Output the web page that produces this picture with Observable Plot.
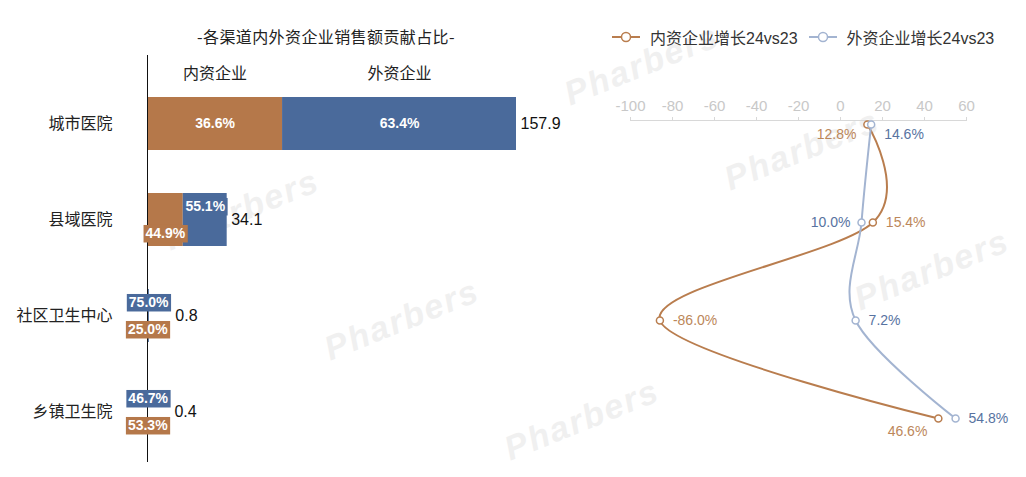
<!DOCTYPE html>
<html><head><meta charset="utf-8">
<script src="https://cdn.jsdelivr.net/npm/d3@7"></script>
<script src="https://cdn.jsdelivr.net/npm/@observablehq/plot@0.6"></script>
<style>
body{margin:0;background:#fff;}
#wrap{position:relative;width:1026px;height:477px;overflow:hidden;font-family:"Liberation Sans","Noto Sans CJK SC",sans-serif;background:#fff;}
#wrap svg{position:absolute;left:0;top:0;}
.wm{position:absolute;color:#f0f0f0;font:italic bold 34px "Liberation Sans",sans-serif;transform:rotate(-22deg);white-space:nowrap;letter-spacing:2px;}
.legend{position:absolute;top:25px;font-size:16px;color:#333;display:flex;align-items:center;white-space:nowrap;font-family:"Liberation Sans","Noto Sans CJK SC",sans-serif;}
.title{position:absolute;left:0;width:652px;text-align:center;top:24px;font-size:16px;color:#222;letter-spacing:0.4px;font-family:"Noto Sans CJK SC",sans-serif;}
</style></head><body><div id="wrap"></div>
<script>
// ---- data ----
const channels = ["城市医院", "县域医院", "社区卫生中心", "乡镇卫生院"];
const totalSales = [157.9, 34.1, 0.8, 0.4];
const domesticShare = [36.6, 44.9, 25.0, 53.3];
const foreignShare = [63.4, 55.1, 75.0, 46.7];
const domesticGrowth = [12.8, 15.4, -86.0, 46.6];
const foreignGrowth = [14.6, 10.0, 7.2, 54.8];
const growthTicks = [-100, -80, -60, -40, -20, 0, 20, 40, 60];
const seriesNames = ["内资企业", "外资企业"];
const legendNames = ["内资企业增长24vs23", "外资企业增长24vs23"];
const titleText = "-各渠道内外资企业销售额贡献占比-";

// ---- styles ----
const ORANGE = "#B5784A", BLUE = "#4A6A9B";
const LORANGE = "#B97D4E", LBLUE = "#A3B4D1";
const TORANGE = "#BC875A", TBLUE = "#5873A1";
const FONT = '"Liberation Sans","Noto Sans CJK SC",sans-serif';
// label placement per point: [anchor, dy]
const domLabelPos = [["end", 10], ["start", 0], ["start", 0], ["end", 13]];
const forLabelPos = [["start", 10], ["end", 0], ["start", 0], ["start", 0]];

const wrap = document.getElementById("wrap");

// watermarks
[[560, 45], [160, 190], [720, 130], [320, 300], [850, 250], [500, 400]]
  .forEach(([l, t]) => {
    const d = document.createElement("div");
    d.className = "wm"; d.style.left = l + "px"; d.style.top = t + "px"; d.textContent = "Pharbers";
    wrap.appendChild(d);
  });

// ---- left chart rows ----
const rows = [];
channels.forEach((c, i) => {
  const d = totalSales[i] * domesticShare[i] / 100;
  rows.push({channel: c, i, type: seriesNames[0], x1: 0, x2: d, share: domesticShare[i]});
  rows.push({channel: c, i, type: seriesNames[1], x1: d, x2: totalSales[i], share: foreignShare[i]});
});
rows.forEach(r => r.mid = (r.x1 + r.x2) / 2);
const totals = channels.map((c, i) => ({channel: c, total: totalSales[i]}));
const fmt = v => v.toFixed(1) + "%";
const boxedFor = rows.filter(r => r.i > 0 && r.type === seriesNames[1]);
const boxedDom = rows.filter(r => r.i > 0 && r.type === seriesNames[0]);

const left = Plot.plot({
  width: 1026, height: 477,
  marginLeft: 0, marginRight: 0, marginTop: 55, marginBottom: 15,
  style: {background: "transparent", fontFamily: FONT, overflow: "visible"},
  x: {domain: [0, 157.9], range: [147, 516], axis: null},
  y: {domain: channels, range: [97, 438.5], paddingInner: 0.45, paddingOuter: 0, axis: null},
  color: {domain: seriesNames, range: [ORANGE, BLUE]},
  marks: [
    Plot.barX(rows, {x1: "x1", x2: "x2", y: "channel", fill: "type"}),
    Plot.ruleX([0], {stroke: "#111", strokeWidth: 1}),
    Plot.text(channels, {x: () => 0, y: d => d, dx: -35, textAnchor: "end", fontSize: 16, fill: "#222", text: d => d}),
    Plot.text(rows.filter(r => r.i === 0), {x: "mid", y: "channel", dy: -50, text: "type", fontSize: 16, fill: "#222"}),
    Plot.text(rows.filter(r => r.i === 0), {x: "mid", y: "channel", text: d => fmt(d.share), fill: "white", fontWeight: "bold", fontSize: 14}),
    Plot.text(boxedFor, {x: "mid", y: "channel", dy: -13, text: d => fmt(d.share), fill: "white", fontWeight: "bold", fontSize: 14}),
    Plot.text(boxedDom, {x: "mid", y: "channel", dy: 14, text: d => fmt(d.share), fill: "white", fontWeight: "bold", fontSize: 14}),
    Plot.text(totals.filter(d => d.total > 10), {x: "total", y: "channel", dx: 4, textAnchor: "start", text: d => d.total.toFixed(1), fontSize: 16, fill: "#111"}),
    Plot.text(totals.filter(d => d.total <= 10), {x: "total", y: "channel", dx: 26, textAnchor: "start", text: d => d.total.toFixed(1), fontSize: 16, fill: "#111"})
  ]
});
wrap.appendChild(left);

// background boxes for small labels (matched by their text)
const forSet = new Set(boxedFor.map(r => fmt(r.share)));
const domSet = new Set(boxedDom.map(r => fmt(r.share)));
left.querySelectorAll("text").forEach(t => {
  const s = t.textContent;
  const col = forSet.has(s) ? BLUE : domSet.has(s) ? ORANGE : null;
  if (!col) return;
  const b = t.getBBox();
  const r = document.createElementNS("http://www.w3.org/2000/svg", "rect");
  r.setAttribute("x", b.x - 2); r.setAttribute("y", b.y - 0.5);
  r.setAttribute("width", b.width + 4); r.setAttribute("height", b.height + 1.5);
  r.setAttribute("fill", col);
  const tr = t.getAttribute("transform"); if (tr) r.setAttribute("transform", tr);
  t.parentNode.insertBefore(r, t);
});

// ---- right chart ----
const dom = channels.map((c, i) => ({channel: c, v: domesticGrowth[i], i}));
const forn = channels.map((c, i) => ({channel: c, v: foreignGrowth[i], i}));
function labels(data, pos, color) {
  return ["start", "end"].flatMap(anchor => [0, 10, 13].map(dy =>
    Plot.text(data.filter(d => pos[d.i][0] === anchor && pos[d.i][1] === dy), {
      x: "v", y: "channel", text: d => fmt(d.v), textAnchor: anchor,
      dx: anchor === "start" ? 13 : -11, dy, fill: color, fontSize: 14
    })));
}
const right = Plot.plot({
  width: 1026, height: 477,
  marginLeft: 630, marginRight: 60, marginTop: 120, marginBottom: 40,
  style: {background: "transparent", fontFamily: FONT, overflow: "visible"},
  x: {domain: [-100, 60], range: [630, 966], label: null},
  y: {domain: channels, type: "point", range: [123, 418], padding: 0, axis: null},
  marks: [
    Plot.axisX({anchor: "top", ticks: growthTicks, tickFormat: d => String(d), tickSize: 4, tickPadding: 6, stroke: "#d8d8d8", fill: "#c8c8c8", fontSize: 15, label: null}),
    Plot.frame({anchor: "top", stroke: "#d8d8d8"}),
    Plot.line(dom, {x: "v", y: "channel", curve: "cardinal", stroke: LORANGE, strokeWidth: 2}),
    Plot.line(forn, {x: "v", y: "channel", curve: "cardinal", stroke: LBLUE, strokeWidth: 2}),
    Plot.dot(dom, {x: "v", y: "channel", r: 3.5, fill: "white", stroke: LORANGE, strokeWidth: 1.5}),
    Plot.dot(forn, {x: "v", y: "channel", r: 3.5, fill: "white", stroke: LBLUE, strokeWidth: 1.5}),
    ...labels(dom, domLabelPos, TORANGE),
    ...labels(forn, forLabelPos, TBLUE)
  ]
});
wrap.appendChild(right);

// title
const t = document.createElement("div");
t.className = "title"; t.textContent = titleText; wrap.appendChild(t);

// legend
const lg = document.createElement("div");
lg.className = "legend"; lg.style.left = "612px";
const sym = c => `<svg width="28" height="12" style="position:static;margin-right:10px"><line x1="0" x2="28" y1="6" y2="6" stroke="${c}" stroke-width="2"/><circle cx="14" cy="6" r="4.5" fill="white" stroke="${c}" stroke-width="1.5"/></svg>`;
lg.innerHTML = `${sym(LORANGE)}<span>${legendNames[0]}</span><span style="width:11px"></span>${sym(LBLUE)}<span>${legendNames[1]}</span>`;
wrap.appendChild(lg);
</script></body></html>
